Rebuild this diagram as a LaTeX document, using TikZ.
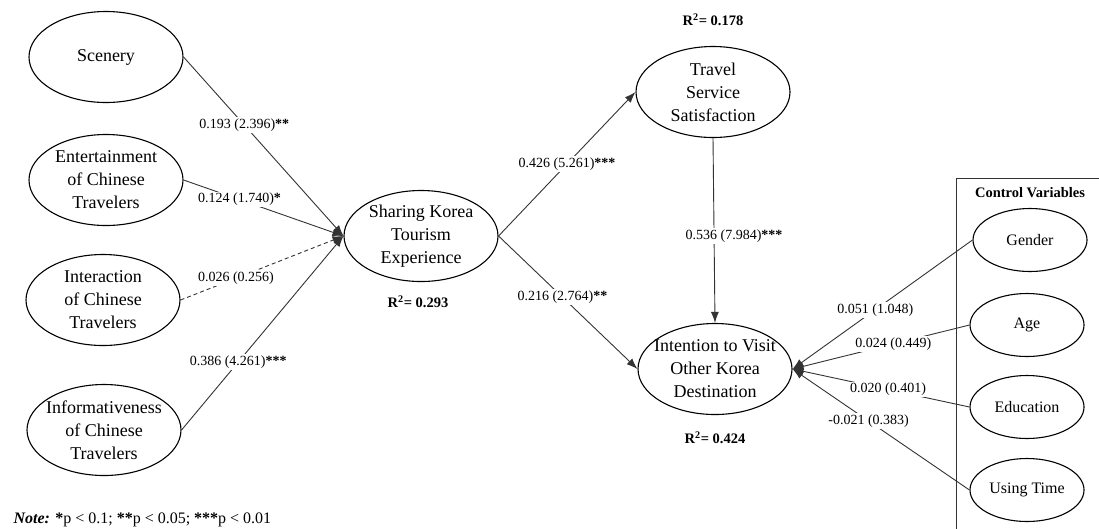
\documentclass[tikz,border=0pt]{standalone}
\usepackage{fontspec}
\setmainfont{Liberation Serif}
\usetikzlibrary{shapes.geometric,arrows.meta}

\newcommand{\sig}[1]{\textbf{#1}}

\begin{document}
\begin{tikzpicture}[x=1pt,y=-1pt,
		latent/.style={draw, ellipse, line width=1.1pt, inner xsep=-12pt, inner ysep=0pt, minimum width=154pt, minimum height=91pt, align=center, font=\fontsize{18}{23}\selectfont},
		control/.style={draw, ellipse, line width=1.1pt, inner sep=0pt, minimum width=114pt, minimum height=63pt, align=center, font=\fontsize{16}{19}\selectfont},
		link/.style={draw=black!80, line width=0.9pt, -{Latex[length=11pt,width=8pt]}},
		coef/.style={fill=white, inner sep=1.5pt, font=\fontsize{14}{16}\selectfont},
		rsq/.style={font=\fontsize{14.5}{16}\selectfont\bfseries}]
			\useasboundingbox (0,0) rectangle (1099,528);
			
			% constructs
			\node[latent] (scenery) at (106,57) {Scenery};
			\node[latent] (entertain) at (106,180) {Entertainment\\of Chinese\\Travelers};
			\node[latent] (interact) at (103,300) {Interaction\\of Chinese\\Travelers};
			\node[latent] (inform) at (104,430) {Informativeness\\of Chinese\\Travelers};
			\node[latent] (sharing) at (421,236) {Sharing Korea\\Tourism\\Experience};
			\node[latent] (travel) at (713,92) {Travel\\Service\\Satisfaction};
			\node[latent] (intention) at (715,369) {Intention to Visit\\Other Korea\\Destination};
			
			% control variables
			\draw[line width=0.9pt, black!80] (956,530) -- (956,178) -- (1100,178);
			\node[font=\fontsize{14.5}{16}\selectfont\bfseries] (ctrltitle) at (1030,193) {Control Variables};
			\node[control] (gender) at (1030,240) {Gender};
			\node[control] (age) at (1027,325) {Age};
			\node[control] (education) at (1027,407) {Education};
			\node[control] (usetime) at (1027,490) {Using Time};
			
			% R squared
			\node[rsq] (rsqsharing) at (418,302) {R\textsuperscript{2}= 0.293};
			\node[rsq] (rsqtravel) at (713,20) {R\textsuperscript{2}= 0.178};
			\node[rsq] (rsqintention) at (715,438) {R\textsuperscript{2}= 0.424};
			
			% paths
			\draw[link] (scenery.east) -- node[coef, pos=0.38] {0.193 (2.396)\sig{**}} (sharing.west);
			\draw[link] (entertain.east) -- node[coef, pos=0.35] {0.124 (1.740)\sig{*}} (sharing.west);
			\draw[link, dash pattern=on 4pt off 3pt] (interact.east) -- node[coef, pos=0.34] {0.026 (0.256)} (sharing.west);
			\draw[link] (inform.east) -- node[coef, pos=0.35] {0.386 (4.261)\sig{***}} (sharing.west);
			\draw[link] (sharing.east) -- node[coef, pos=0.5] {0.426 (5.261)\sig{***}} (travel.west);
			\draw[link] (sharing.east) -- node[coef, pos=0.46] {0.216 (2.764)\sig{**}} (intention.west);
			\draw[link] (travel.south) -- node[coef, pos=0.53, xshift=20pt] {0.536 (7.984)\sig{***}} (intention.north);
			
			\draw[link] (gender.west) -- node[coef, pos=0.54] {0.051 (1.048)} (intention.east);
			\draw[link] (age.west) -- node[coef, pos=0.43] {0.024 (0.449)} (intention.east);
			\draw[link] (education.west) -- node[coef, pos=0.46] {0.020 (0.401)} (intention.east);
			\draw[link] (usetime.west) -- node[coef, pos=0.57] {-0.021 (0.383)} (intention.east);
			
			\node[anchor=base west, font=\fontsize{16}{18}\selectfont] (note) at (10,523) {\textbf{\textit{Note:}} \sig{*}p < 0.1; \sig{**}p < 0.05; \sig{***}p < 0.01};
		\end{tikzpicture}
\end{document}
